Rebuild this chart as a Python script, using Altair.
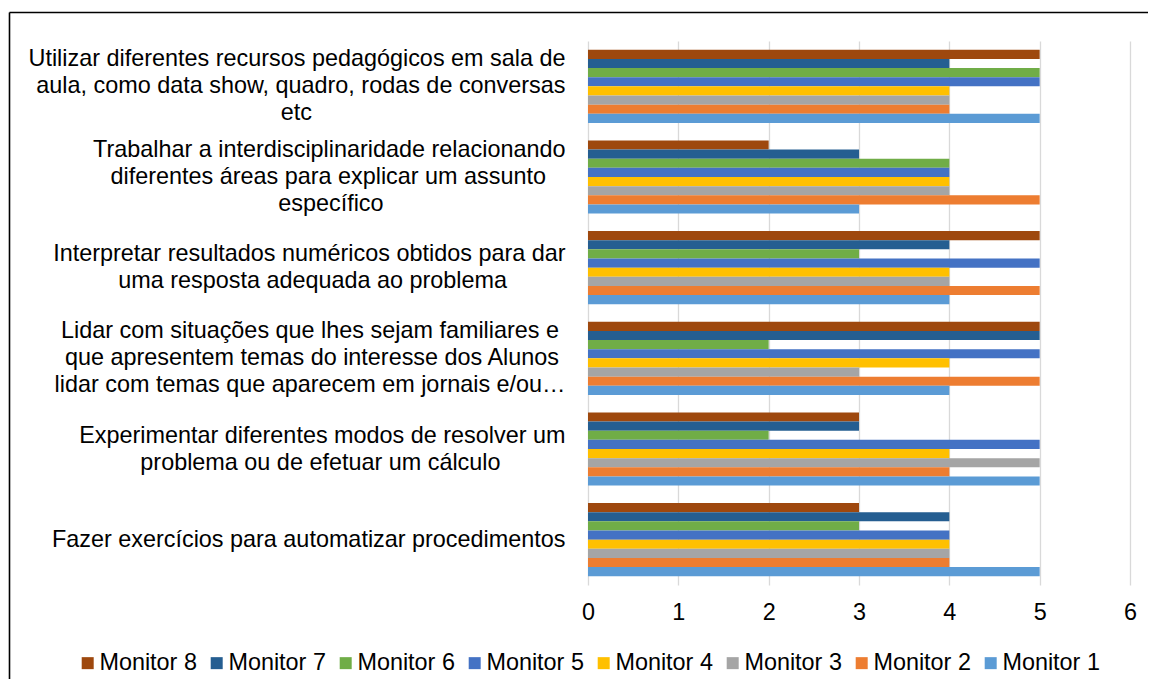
import altair as alt
import pandas as pd

# ---- data -------------------------------------------------------------
category_lines = [
    ["Utilizar diferentes recursos pedagógicos em sala de",
     "aula, como data show, quadro, rodas de conversas",
     "etc"],
    ["Trabalhar a interdisciplinaridade relacionando",
     "diferentes áreas para explicar um assunto",
     "específico"],
    ["Interpretar resultados numéricos obtidos para dar",
     "uma resposta adequada ao problema"],
    ["Lidar com situações que lhes sejam familiares e",
     "que apresentem temas do interesse dos Alunos",
     "lidar com temas que aparecem em jornais e/ou…"],
    ["Experimentar diferentes modos de resolver um",
     "problema ou de efetuar um cálculo"],
    ["Fazer exercícios para automatizar procedimentos"],
]

monitors = ["Monitor 8", "Monitor 7", "Monitor 6", "Monitor 5",
            "Monitor 4", "Monitor 3", "Monitor 2", "Monitor 1"]
colors = ["#9E480E", "#255E91", "#70AD47", "#4472C4",
          "#FFC000", "#A5A5A5", "#ED7D31", "#5B9BD5"]

# values per monitor, in category order (top to bottom)
monitor_8 = [5, 2, 5, 5, 3, 3]
monitor_7 = [4, 3, 4, 5, 3, 4]
monitor_6 = [5, 4, 3, 2, 2, 3]
monitor_5 = [5, 4, 5, 5, 5, 4]
monitor_4 = [4, 4, 4, 4, 4, 4]
monitor_3 = [4, 4, 4, 3, 5, 4]
monitor_2 = [4, 5, 5, 5, 4, 4]
monitor_1 = [5, 3, 4, 4, 5, 5]
series = [monitor_8, monitor_7, monitor_6, monitor_5,
          monitor_4, monitor_3, monitor_2, monitor_1]

x_ticks = [0, 1, 2, 3, 4, 5, 6]

# ---- centre short label lines inside their block (Arial metrics) ------
W = {' ': 278, '\u00a0': 278, ',': 278, '/': 278, '…': 1000,
     'a': 556, 'b': 556, 'c': 500, 'd': 556, 'e': 556, 'f': 278, 'g': 556,
     'h': 556, 'i': 222, 'j': 222, 'k': 500, 'l': 222, 'm': 833, 'n': 556,
     'o': 556, 'p': 556, 'q': 556, 'r': 333, 's': 500, 't': 278, 'u': 556,
     'v': 500, 'w': 722, 'x': 500, 'y': 500, 'z': 500,
     'A': 667, 'E': 667, 'F': 611, 'I': 278, 'L': 556, 'T': 611, 'U': 722,
     'á': 556, 'é': 556, 'í': 278, 'ó': 556, 'ú': 556, 'ç': 500, 'õ': 556}


def text_w(s):
    return sum(W.get(ch, 556) for ch in s)


labels = []
for lines in category_lines:
    wmax = max(text_w(l) for l in lines)
    padded = []
    for l in lines:
        n = int(round((wmax - text_w(l)) / 2 / 278))
        # nbsp padding, closed by a zero-width char so it is not trimmed
        padded.append(l + ("\u00a0" * n + "\u200b" if n > 0 else ""))
    labels.append("|".join(padded))

rows = []
for m, vals in zip(monitors, series):
    for lab, v in zip(labels, vals):
        rows.append({"categoria": lab, "monitor": m, "valor": v})
df = pd.DataFrame(rows)

FONT = "Liberation Sans"
FS = 23.4
LH = 27

label_offset = {
    "condition": [
        {"test": "length(split(datum.value, '|')) == 3", "value": -LH},
        {"test": "length(split(datum.value, '|')) == 2", "value": -LH / 2},
    ],
    "value": 0,
}

bars = alt.Chart(df).mark_bar().encode(
    y=alt.Y("categoria:N", sort=labels, title=None,
            scale=alt.Scale(paddingInner=0.193, paddingOuter=0.0965),
            axis=alt.Axis(labelExpr="split(datum.label, '|')",
                          labelFont=FONT, labelFontSize=FS, labelColor="#000000",
                          labelLineHeight=LH, labelPadding=23, labelLimit=1000,
                          labelOffset=label_offset,
                          domain=False, ticks=False, grid=False)),
    yOffset=alt.YOffset("monitor:N", sort=monitors,
                        scale=alt.Scale(paddingInner=0, paddingOuter=0)),
    x=alt.X("valor:Q", title=None,
            scale=alt.Scale(domain=[0, 6], nice=False),
            axis=alt.Axis(values=x_ticks, format="d", labelFont=FONT,
                          labelFontSize=FS, labelColor="#000000",
                          labelPadding=16, labelFlush=False,
                          domain=False, ticks=False,
                          grid=True, gridColor="#D9D9D9", gridWidth=1.3)),
    color=alt.Color("monitor:N", sort=monitors, title=None,
                    scale=alt.Scale(domain=monitors, range=colors),
                    legend=alt.Legend(orient="none", legendX=-512, legendY=610,
                                      direction="horizontal", columns=8,
                                      symbolType="square", symbolSize=144,
                                      symbolStrokeWidth=0, labelFont=FONT,
                                      labelFontSize=FS, labelColor="#000000",
                                      labelOffset=0, columnPadding=8,
                                      padding=0, labelLimit=300)),
)

# chart frame: only its top and left edges fall inside the picture
one = pd.DataFrame({"f": [0]})
frame_top = alt.Chart(one).mark_rule(color="#000000", strokeWidth=1.6).encode(
    x=alt.value(-578.5), x2=alt.value(700), y=alt.value(-28.5))
frame_left = alt.Chart(one).mark_rule(color="#000000", strokeWidth=1.6).encode(
    x=alt.value(-578.5), y=alt.value(-28.5), y2=alt.value(800))

chart = alt.layer(frame_top, frame_left, bars).properties(
    width=542, height=544,
    autosize=alt.AutoSizeParams(type="none"),
    padding={"left": 580, "top": 33, "right": 18, "bottom": 94},
).configure_view(strokeWidth=0)

chart.save("out.html", embed_options={"renderer": "svg", "actions": False})
